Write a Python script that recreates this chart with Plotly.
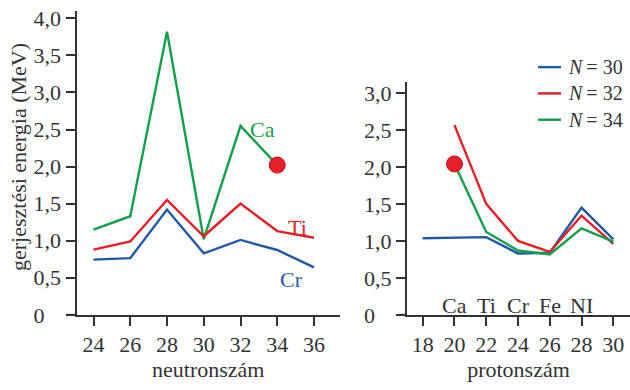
import plotly.graph_objects as go

# ---- data ----
neutron_n = [24, 26, 28, 30, 32, 34, 36]
ca_e = [1.15, 1.33, 3.82, 1.02, 2.55, 2.02, None]
ti_e = [0.88, 0.99, 1.55, 1.06, 1.50, 1.13, 1.04]
cr_e = [0.745, 0.765, 1.42, 0.83, 1.01, 0.875, 0.64]
ca_point_left = (34, 2.02)

proton_z = [18, 20, 22, 24, 26, 28, 30]
n30_e = [1.035, 1.04, 1.05, 0.83, 0.84, 1.45, 1.02]
n32_e = [None, 2.565, 1.50, 1.00, 0.85, 1.34, 0.96]
n34_e = [None, 2.04, 1.12, 0.87, 0.815, 1.17, 0.99]
ca_point_right = (20, 2.04)

legend_names = ["<i>N</i>\u2009= 30", "<i>N</i>\u2009= 32", "<i>N</i>\u2009= 34"]
element_z = [20, 22, 24, 26, 28]
element_names = ["Ca", "Ti", "Cr", "Fe", "NI"]

series_labels = ["Ca", "Ti", "Cr"]
series_label_x = [33.2, 35.1, 34.8]
series_label_y = [2.50, 1.18, 0.48]

left_yticks = [0, 0.5, 1.0, 1.5, 2.0, 2.5, 3.0, 3.5, 4.0]
right_yticks = [0, 0.5, 1.0, 1.5, 2.0, 2.5, 3.0]

BLUE = "#1f5aa6"
RED = "#e41f26"
GREEN = "#12a04b"
DOT = "#e8202a"
INK = "#333333"
FONT = "Liberation Serif"

def ylab(v):
    if v == 0:
        return "0\u00a0\u00a0\u00a0"
    return f"{v:.1f}".replace(".", ",")

W, H = 630, 390
def px(x):
    return x / W
def py(y):
    return (H - y) / H

fig = go.Figure()

lw = 2.4
# left panel
fig.add_trace(go.Scatter(x=neutron_n, y=ca_e, mode="lines", line=dict(color=GREEN, width=lw),
                         xaxis="x", yaxis="y", showlegend=False))
fig.add_trace(go.Scatter(x=neutron_n, y=ti_e, mode="lines", line=dict(color=RED, width=lw),
                         xaxis="x", yaxis="y", showlegend=False))
fig.add_trace(go.Scatter(x=neutron_n, y=cr_e, mode="lines", line=dict(color=BLUE, width=lw),
                         xaxis="x", yaxis="y", showlegend=False))
fig.add_trace(go.Scatter(x=[ca_point_left[0]], y=[ca_point_left[1]], mode="markers",
                         marker=dict(size=16, color=DOT, line=dict(color="#b5121b", width=1)),
                         xaxis="x", yaxis="y", showlegend=False))

# right panel
for vals, col in zip([n30_e, n32_e, n34_e], [BLUE, RED, GREEN]):
    fig.add_trace(go.Scatter(x=proton_z, y=vals, mode="lines", line=dict(color=col, width=lw),
                             xaxis="x2", yaxis="y2", showlegend=False))
fig.add_trace(go.Scatter(x=[ca_point_right[0]], y=[ca_point_right[1]], mode="markers",
                         marker=dict(size=16, color=DOT, line=dict(color="#b5121b", width=1)),
                         xaxis="x2", yaxis="y2", showlegend=False))

axis_common = dict(showgrid=False, zeroline=False, showline=True, linecolor=INK, linewidth=2,
                   ticks="outside", ticklen=9, tickwidth=2, tickcolor=INK,
                   tickfont=dict(family=FONT, size=22, color=INK))

# pixel geometry
L_X0, L_YAX, L_X1 = 66, 76.5, 340
R_X0, R_YAX = 398, 407
L_24, L_36 = 93.5, 314
R_18, R_30 = 422.7, 613.3
l_ppu = (L_36 - L_24) / 12
r_ppu = (R_30 - R_18) / 12
l_range = [24 - (L_24 - L_YAX) / l_ppu, 36 + (L_X1 - L_36) / l_ppu]
r_range = [18 - (R_18 - R_YAX) / r_ppu, 30 + (W - R_30) / r_ppu]

fig.update_layout(
    width=W, height=H,
    margin=dict(l=0, r=0, t=0, b=0),
    paper_bgcolor="white", plot_bgcolor="white",
    font=dict(family=FONT, color=INK),
    xaxis=dict(**axis_common, domain=[px(L_YAX), px(L_X1)], range=l_range,
               tickvals=neutron_n, ticktext=[str(v) for v in neutron_n], anchor="y",
               title=dict(text="neutronszám", font=dict(family=FONT, size=22, color=INK), standoff=4)),
    yaxis=dict(**axis_common, domain=[py(325), py(7)], range=[0, 4.103], anchor="x",
               tickvals=left_yticks, ticktext=[ylab(v) for v in left_yticks]),
    xaxis2=dict(**axis_common, domain=[px(R_YAX), 1.0], range=r_range,
                tickvals=proton_z, ticktext=[str(v) for v in proton_z], anchor="y2",
                title=dict(text="protonszám", font=dict(family=FONT, size=22, color=INK), standoff=4)),
    yaxis2=dict(**axis_common, domain=[py(325), py(81.7)], range=[0, 3.146], anchor="x2",
                tickvals=right_yticks, ticktext=[ylab(v) for v in right_yticks]),
)

annotations = []
annotations.append(dict(text="gerjesztési energia (MeV)", x=px(18), y=py(160), xref="paper", yref="paper",
                        xanchor="center", yanchor="middle",
                        textangle=-90, showarrow=False, font=dict(family=FONT, size=22, color=INK)))
for t, x, y, c in zip(series_labels, series_label_x, series_label_y, [GREEN, RED, BLUE]):
    annotations.append(dict(text=t, x=x, y=y, xref="x", yref="y", showarrow=False,
                            xanchor="center", yanchor="middle",
                            font=dict(family=FONT, size=22, color=c)))
for t, x in zip(element_names, element_z):
    annotations.append(dict(text=t, x=x, y=0.12, xref="x2", yref="y2", showarrow=False,
                            xanchor="center", yanchor="middle",
                            font=dict(family=FONT, size=22, color=INK)))

shapes = []
# x-axis line extensions left of the y axes
shapes.append(dict(type="line", xref="paper", yref="paper", x0=px(L_X0), x1=px(L_YAX),
                   y0=py(325), y1=py(325), line=dict(color=INK, width=2)))
shapes.append(dict(type="line", xref="paper", yref="paper", x0=px(R_X0), x1=px(R_YAX),
                   y0=py(325), y1=py(325), line=dict(color=INK, width=2)))
leg_y = [66, 93.5, 121]
for name, col, yy in zip(legend_names, [BLUE, RED, GREEN], leg_y):
    shapes.append(dict(type="line", xref="paper", yref="paper", x0=px(538), x1=px(561),
                       y0=py(yy), y1=py(yy), line=dict(color=col, width=lw)))
    annotations.append(dict(text=name, x=px(566), y=py(yy), xref="paper", yref="paper",
                            xanchor="left", yanchor="middle", showarrow=False,
                            font=dict(family=FONT, size=20, color=INK)))
fig.update_layout(annotations=annotations, shapes=shapes)

fig.write_html("out.html")
